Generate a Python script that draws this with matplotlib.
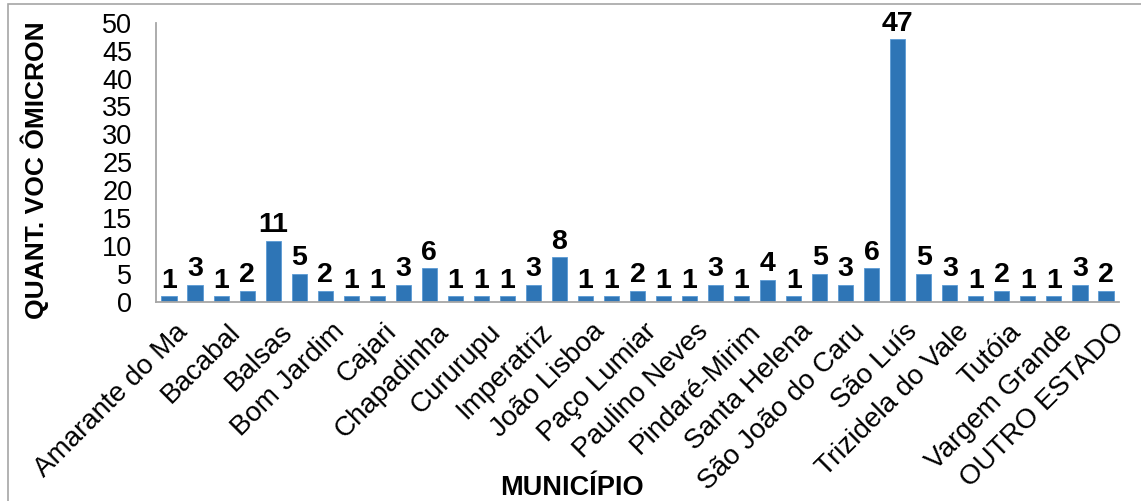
import matplotlib
matplotlib.use("Agg")
import matplotlib.pyplot as plt
from matplotlib.patches import Rectangle
from matplotlib.transforms import ScaledTranslation
import numpy as np

plt.rcParams["font.family"] = ["Liberation Sans", "DejaVu Sans"]

# cases per municipality
municipios = [
    "Amarante do Ma", "Axixá", "Bacabal", "Bacuri", "Balsas", "Barra do Corda",
    "Bom Jardim", "Buriticupu", "Cajari", "Caxias", "Chapadinha", "Codó",
    "Cururupu", "Grajaú", "Imperatriz", "Itapecuru Mirim", "João Lisboa",
    "Lago da Pedra", "Paço Lumiar", "Pedreiras", "Paulino Neves", "Pinheiro",
    "Pindaré-Mirim", "Rosário", "Santa Helena", "Santa Inês", "São João do Caru",
    "São José de Ribamar", "São Luís", "Timon", "Trizidela do Vale", "Tuntum",
    "Tutóia", "Urbano Santos", "Vargem Grande", "Viana", "OUTRO ESTADO",
]
casos = [1, 3, 1, 2, 11, 5, 2, 1, 1, 3, 6, 1, 1, 1, 3, 8, 1, 1, 2, 1, 1, 3, 1,
         4, 1, 5, 3, 6, 47, 5, 3, 1, 2, 1, 1, 3, 2]
y_ticks = list(range(0, 55, 5))

W, H = 1141, 501
fig = plt.figure(figsize=(W / 100, H / 100), dpi=100)
ax = fig.add_axes([156 / W, 1 - 302 / H, (1119 - 156) / W, (302 - 22.7) / H])

x = np.arange(len(municipios))
bars = ax.bar(x, casos, width=0.58, color="#2E75B6", edgecolor="#5B9BD5",
              linewidth=0.6, zorder=2)
ax.bar_label(bars, labels=[str(v) for v in casos], padding=2,
             fontsize=20.5, fontweight="bold", color="black")

ax.set_xlim(-0.5, len(municipios) - 0.5)
ax.set_ylim(0, 50)
ax.set_yticks(y_ticks)
ax.tick_params(axis="y", length=0, pad=17, labelsize=19.5)

# only every other name fits under the bars
ax.set_xticks(x[::2])
labels = ax.set_xticklabels(municipios[::2], rotation=45, ha="right",
                            rotation_mode="anchor", fontsize=20)
ax.tick_params(axis="x", length=0, pad=12)
nudge = ScaledTranslation(6 / 100, 0, fig.dpi_scale_trans)
for lab in labels:
    lab.set_transform(lab.get_transform() + nudge)

for side in ["top", "right"]:
    ax.spines[side].set_visible(False)
for side in ["left", "bottom"]:
    ax.spines[side].set_color("#A6A6A6")
    ax.spines[side].set_linewidth(1.3)

fig.text(35 / W, 1 - 170 / H, "QUANT. VOC ÔMICRON", rotation=90,
         ha="center", va="center", fontsize=19, fontweight="bold")
fig.text(572 / W, 1 - 495 / H, "MUNICÍPIO", ha="center", va="baseline",
         fontsize=19.5, fontweight="bold")

# chart area border
fig.add_artist(Rectangle((8 / W, -0.1), 1.2, 1.1 - 3.5 / H,
                         transform=fig.transFigure, fill=False,
                         edgecolor="#A6A6A6", linewidth=1.2))

fig.savefig("out.png", dpi=100)
